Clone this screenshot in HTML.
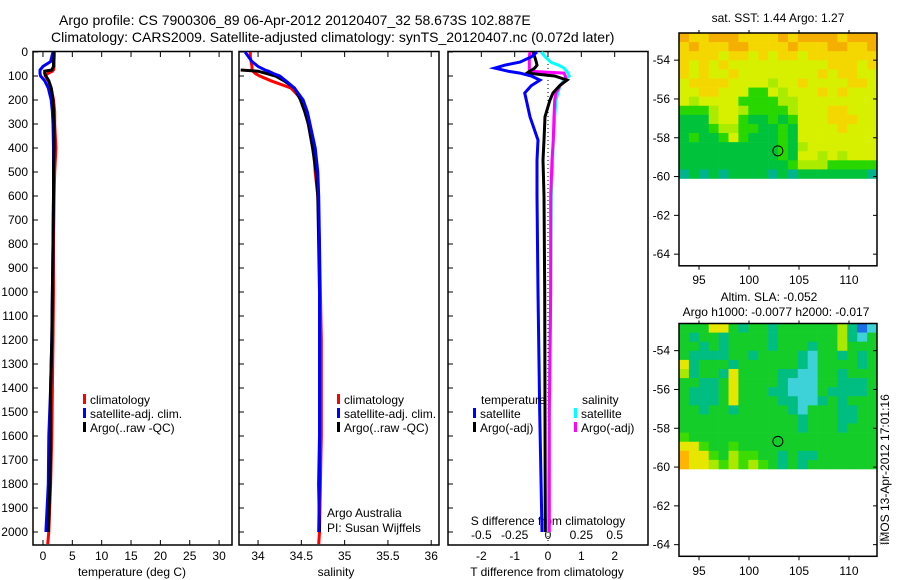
<!DOCTYPE html>
<html><head><meta charset="utf-8"><style>
body{margin:0;background:#fff}
svg{display:block;font-family:"Liberation Sans",sans-serif}
text{font-size:12px;fill:#000}
</style></head><body>
<svg id="c" width="900" height="580" xmlns="http://www.w3.org/2000/svg">
<text x="59" y="25" style="font-size:14px">Argo profile: CS 7900306_89 06-Apr-2012 20120407_32 58.673S 102.887E</text>
<text x="51" y="42" style="font-size:14px">Climatology: CARS2009. Satellite-adjusted climatology: synTS_20120407.nc (0.072d later)</text>
<text x="132" y="576" text-anchor="middle">temperature (deg C)</text>
<text x="336" y="576" text-anchor="middle">salinity</text>
<text x="547" y="576" text-anchor="middle">T difference from climatology</text>
<text x="548" y="525" text-anchor="middle">S difference from climatology</text>
<text x="327" y="517">Argo Australia</text>
<text x="327" y="532">PI: Susan Wijffels</text>
<text x="778" y="22" text-anchor="middle">sat. SST: 1.44  Argo: 1.27</text>
<text x="769" y="301" text-anchor="middle">Altim. SLA: -0.052</text>
<text x="776" y="316" text-anchor="middle">Argo h1000: -0.0077 h2000: -0.017</text>
<text transform="translate(889,545) rotate(-90)">IMOS 13-Apr-2012 17:01:16</text>
<rect x="880" y="535" width="7" height="9" fill="none" stroke="#888" stroke-dasharray="1,1"/>
<g id="g"></g>
</svg>
<script>
const depths=[0,20,40,60,75,80,90,100,120,150,200,250,300,400,500,600,800,1000,1200,1400,1600,1800,2000,2050];
const tempClim=[1.9,1.9,1.9,1.9,1.8,1.6,0.8,0.4,0.9,1.4,1.8,2.0,2.0,2.2,2.0,1.9,1.8,1.8,1.7,1.6,1.5,1.3,1.0,0.8];
const tempSat=[1.7,1.5,1.3,0.0,-0.5,-0.5,-0.5,-0.4,0.3,0.9,1.4,1.6,1.7,1.8,1.8,1.8,1.7,1.6,1.5,1.3,1.0,0.9,0.5,null];
const tempArgo=[1.9,1.9,1.8,1.8,1.5,0.3,0.3,0.5,1.0,1.4,1.7,1.8,1.9,1.9,1.8,1.8,1.7,1.6,1.5,1.3,1.3,1.2,0.9,null];
const salClim=[33.91,33.91,33.92,33.93,33.93,33.94,33.97,34.02,34.15,34.38,34.51,34.55,34.58,34.64,34.66,34.69,34.71,34.72,34.73,34.73,34.73,34.72,34.71,34.70];
const salSat=[33.85,33.89,33.93,34.0,34.08,34.12,34.18,34.25,34.32,34.42,34.52,34.57,34.6,34.66,34.69,34.7,34.71,34.71,34.71,34.71,34.71,34.71,34.70,null];
const salArgo=[null,null,null,null,33.8,34.0,34.1,34.2,34.3,34.42,34.49,34.54,34.58,34.63,34.67,34.69,34.70,34.71,34.71,34.71,34.71,34.70,34.71,null];
const diffDepths=[0,20,42,55,67,80,88,100,117,140,171,200,270,367,450,600,1000,1500,2000];
const dTSat=[-0.33,-0.5,-0.84,-1.3,-1.6,-1.2,-0.84,-0.5,-0.24,-0.5,-0.7,-0.65,-0.54,-0.3,-0.33,-0.33,-0.3,-0.25,-0.18];
const dTArgo=[-0.45,-0.4,-0.35,-0.33,-0.4,-0.55,-0.63,0.2,0.57,0.35,0.15,0.06,-0.09,-0.12,-0.15,-0.12,-0.1,-0.09,-0.08];
const dSSat=[-0.05,-0.02,0.02,0.08,0.12,0.14,0.15,0.16,0.12,0.09,0.075,0.06,0.05,0.04,0.035,0.025,0.02,0.01,0.0];
const dSArgo=[-0.135,-0.14,-0.14,-0.14,-0.14,-0.14,0.12,0.13,0.135,0.09,0.06,0.05,0.045,0.04,0.03,0.02,0.02,0.01,0.01];
const depthTicks=[0,100,200,300,400,500,600,700,800,900,1000,1100,1200,1300,1400,1500,1600,1700,1800,1900,2000];
const tTicks=[0,5,10,15,20,25,30];
const sTicks=[34,34.5,35,35.5,36];
const dtTicks=[-2,-1,0,1,2];
const dsTicks=[-0.5,-0.25,0,0.25,0.5];
const dsTickLabels=["-0.5","-0.25","0","0.25","0.5"];
const lonTicks=[95,100,105,110];
const latTicks=[-54,-56,-58,-60,-62,-64];
const sstGrid=["65566655556566665666","56555665555655566556","55554554545545555555","54545444444444455545","54544544444444545544","45555444434454444554","44554442243444545444","43444422223344444444","22234432222344455444","11134421121244455544","11123322112144445444","12112421112144444444","11111111112134444444","11111111112144343444","11111111111233322222","01010111101011111110"];
const slaGrid=["33366323323333335201","32332333323333335213","33232333323332335333","32222332333321332323","62333233333321333323","52332633332211332333","33223633332111332223","32223633322111322223","32223633332211232333","33233233333213332233","33333333333323332233","33333333333323332333","43333333333333333333","66433433333333333333","76643544332322333333","76654545432323333333"];
const argoLon=[102.887];
const argoLat=[-58.673];

const NS="http://www.w3.org/2000/svg";
const G=document.getElementById('g');
function mk(tag,at,parent){const e=document.createElementNS(NS,tag);for(const k in at)e.setAttribute(k,at[k]);(parent||G).appendChild(e);return e;}
const yD=d=>52+d*0.24;
const PT={x0:33,x1:232,lo:-1.7,hi:32.2};
const PS={x0:239,x1:439,lo:33.78,hi:36.09};
const PD={x0:448,x1:648,lo:-3,hi:3};
const PSd={x0:448,x1:648,lo:-0.75,hi:0.75};
const sx=(p,v)=>p.x0+(v-p.lo)/(p.hi-p.lo)*(p.x1-p.x0);

function panelFrame(p,name){
  const r=mk('rect',{x:p.x0,y:51.5,width:p.x1-p.x0,height:493.5,fill:'none',stroke:'#000','stroke-width':1.5});
  
  
  depthTicks.forEach(d=>{
    const t=mk('line',{x1:p.x0,x2:p.x0+5,y1:yD(d),y2:yD(d),stroke:'#000'});
    
    
  });
}
function xTicks(p,ticks,labels,ly,name,bottom){
  ticks.forEach((v,i)=>{
    const x=sx(p,v);
    const t1=mk('line',{x1:x,x2:x,y1:51.5,y2:57,stroke:'#000'});
    
    
    if(bottom){const t2=mk('line',{x1:x,x2:x,y1:545,y2:540,stroke:'#000'});
    
    }
    const tx=mk('text',{x:x,y:ly,'text-anchor':'middle'});tx.textContent=labels?labels[i]:String(v);
    
    
  });
}
function line(p,ds,vals,color,name,w){
  let pts=[];
  vals.forEach((v,i)=>{if(v!==null)pts.push(sx(p,v).toFixed(1)+','+yD(ds[i]).toFixed(1));});
  const l=mk('polyline',{points:pts.join(' '),fill:'none',stroke:color,'stroke-width':w||3,'stroke-linejoin':'miter'});
  
  
}
depthTicks.forEach(d=>{
  const t=mk('text',{x:28,y:yD(d)+4,'text-anchor':'end'});t.textContent=d;
  
  
});
panelFrame(PT,'temperature-panel');
panelFrame(PS,'salinity-panel');
panelFrame(PD,'difference-panel');
xTicks(PT,tTicks,null,560,'temperature-x',true);
xTicks(PS,sTicks,null,560,'salinity-x',true);
xTicks(PD,dtTicks,null,560,'tdiff-x',false);
dsTicks.forEach((v,i)=>{const tx=mk('text',{x:sx(PSd,v),y:539,'text-anchor':'middle'});tx.textContent=dsTickLabels[i];
  
  });
line(PT,depths,tempClim,'#f00','temp-climatology-line');
line(PT,depths,tempSat,'#00f','temp-satellite-line');
line(PT,depths,tempArgo,'#000','temp-argo-line');
line(PS,depths,salClim,'#f00','sal-climatology-line');
line(PS,depths,salArgo,'#000','sal-argo-line');
line(PS,depths,salSat,'#00f','sal-satellite-line');
const z=mk('line',{x1:sx(PD,0),x2:sx(PD,0),y1:52,y2:545,stroke:'#000','stroke-dasharray':'1,3'});


line(PSd,diffDepths,dSSat,'#0ff','sdiff-satellite-line');
line(PSd,diffDepths,dSArgo,'#f0f','sdiff-argo-line');
line(PD,diffDepths,dTArgo,'#000','tdiff-argo-line');
line(PD,diffDepths,dTSat,'#00f','tdiff-satellite-line');
function legend(x,y,color,label,name){
  const r=mk('rect',{x:x,y:y-10,width:3,height:10,fill:color});
  
  
  const t=mk('text',{x:x+7,y:y});t.textContent=label;
  
  
}
legend(83,404,'#f00','climatology','legend-t-climatology');
legend(83,418,'#00f','satellite-adj. clim.','legend-t-satellite');
legend(83,432,'#000','Argo(..raw -QC)','legend-t-argo');
legend(337,404,'#f00','climatology','legend-s-climatology');
legend(337,418,'#00f','satellite-adj. clim.','legend-s-satellite');
legend(337,432,'#000','Argo(..raw -QC)','legend-s-argo');
const lt=mk('text',{x:481,y:404});lt.textContent='temperature';


const ls=mk('text',{x:582,y:404});ls.textContent='salinity';


legend(473,418,'#00f','satellite','legend-tdiff-satellite');
legend(473,432,'#000','Argo(-adj)','legend-tdiff-argo');
legend(574,418,'#0ff','satellite','legend-sdiff-satellite');
legend(574,432,'#f0f','Argo(-adj)','legend-sdiff-argo');
const sstColors=['rgb(0,180,140)','rgb(0,195,60)','rgb(40,215,0)','rgb(170,235,0)','rgb(215,240,0)','rgb(245,215,0)','rgb(245,175,0)'];
const slaColors=['rgb(30,110,230)','rgb(60,210,215)','rgb(0,190,130)','rgb(20,205,40)','rgb(60,220,0)','rgb(170,232,0)','rgb(230,230,0)','rgb(255,180,0)'];
function map(top,grid,colors,name,lblY){
  const mx=lon=>679+(lon-93)*10;
  const my=lat=>top+(-52.6-lat)*19.4;
  const rows=grid.length,cols=grid[0].length;
  const dlon=19.8/cols,dlat=7.5/rows;
  grid.forEach((row,r)=>{[...row].forEach((ch,c)=>{
    const x=mx(93+c*dlon),y=my(-52.6-r*dlat);
    const cell=mk('rect',{x:x,y:y,width:mx(93+(c+1)*dlon)-x+0.3,height:my(-52.6-(r+1)*dlat)-y+0.3,fill:colors[+ch]});
    
    
  });});
  const fr=mk('rect',{x:679,y:top,width:198,height:my(-64.6)-top,fill:'none',stroke:'#000','stroke-width':1.5});
  
  
  latTicks.forEach(l=>{
    const t=mk('line',{x1:679,x2:674,y1:my(l),y2:my(l),stroke:'#000'});
    
    
    const t2=mk('line',{x1:877,x2:873,y1:my(l),y2:my(l),stroke:'#000'});
    
    
    const tx=mk('text',{x:670,y:my(l)+4,'text-anchor':'end'});tx.textContent=l;
    
    
  });
  lonTicks.forEach(l=>{
    const yb=my(-64.6);
    const t=mk('line',{x1:mx(l),x2:mx(l),y1:yb,y2:yb+4,stroke:'#000'});
    
    
    const t2=mk('line',{x1:mx(l),x2:mx(l),y1:top,y2:top-3,stroke:'#000'});
    
    
    const tx=mk('text',{x:mx(l),y:lblY,'text-anchor':'middle'});tx.textContent=l;
    
    
  });
  const c=mk('circle',{cx:mx(argoLon[0]),cy:my(argoLat[0]),r:5,fill:'none',stroke:'#000'});
  
  
}
map(33,sstGrid,sstColors,'sst-map',284);
map(323.5,slaGrid,slaColors,'sla-map',575);
</script>
</body></html>
